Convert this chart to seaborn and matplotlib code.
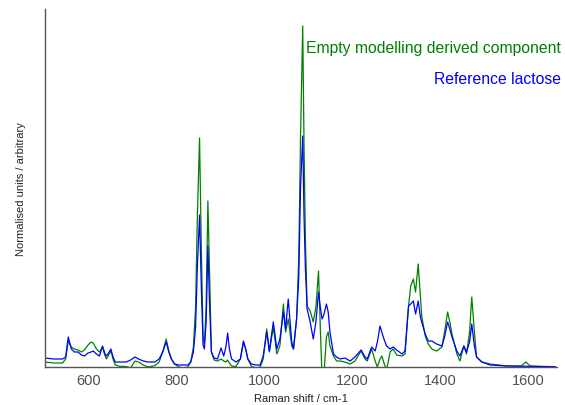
import pandas as pd
import matplotlib
matplotlib.use("Agg")
import matplotlib.pyplot as plt
import seaborn as sns

# Raman shift (cm-1) and intensities (arbitrary units)
shift = [500, 520, 540, 547, 553, 560, 567, 575, 583, 590,
         598, 605, 610, 617, 624, 631, 636, 640, 645, 650,
         655, 660, 670, 685, 695, 705, 713, 724, 735, 750,
         760, 768, 776, 782, 788, 795, 805, 815, 825, 832,
         838, 843, 847, 852, 856, 860, 863, 867, 871, 875,
         879, 885, 893, 901, 907, 912, 916, 920, 925, 935,
         945, 952, 957, 962, 970, 980, 990, 997, 1005, 1011,
         1020, 1028, 1035, 1043, 1048, 1054, 1062, 1066, 1073, 1078,
         1082, 1087, 1090, 1093, 1097, 1104, 1111, 1117, 1123, 1127,
         1131, 1135, 1141, 1145, 1149, 1157, 1164, 1172, 1183, 1195,
         1206, 1220, 1229, 1234, 1244, 1252, 1257, 1263, 1267, 1272,
         1278, 1286, 1293, 1301, 1313, 1320, 1328, 1333, 1339, 1344,
         1350, 1355, 1358, 1366, 1373, 1381, 1392, 1404, 1410, 1417,
         1422, 1427, 1438, 1445, 1454, 1460, 1467, 1472, 1478, 1483,
         1495, 1514, 1552, 1585, 1595, 1605, 1628, 1662]

lactose = [9, 8, 8, 10, 30, 18, 15, 15, 12, 11,
           14, 15, 16, 13, 11, 21, 14, 11, 14, 18,
           10, 5, 5, 5, 7, 10, 8, 6, 5, 5,
           8, 15, 25, 15, 8, 3, 2, 2, 2, 5,
           15, 40, 100, 152, 80, 22, 18, 45, 121, 60,
           15, 9, 8, 19, 11, 20, 34, 18, 8, 5,
           8, 26, 18, 8, 3, 2, 2, 11, 35, 16,
           45, 18, 28, 55, 38, 68, 25, 18, 48, 90,
           180, 231, 150, 100, 58, 45, 28, 45, 75, 60,
           48, 52, 63, 55, 35, 13, 10, 8, 9, 6,
           10, 17, 10, 8, 20, 16, 25, 41, 35, 28,
           21, 18, 20, 17, 13, 16, 61, 63, 66, 53,
           66, 50, 45, 33, 26, 26, 23, 21, 30, 45,
           38, 30, 16, 11, 21, 15, 25, 43, 21, 10,
           5, 2, 1, 0.7, 0.7, 0.7, 0.5, 0.3]

component = [5, 4, 4, 8, 26, 20, 18, 17, 15, 17,
             22, 25, 24, 18, 15, 20, 12, 8, 12, 16,
             8, 2, 0.7, 0.5, -1, 6, 5, 2, 0, 1.3,
             5, 15, 28, 16, 8, 3, 0, -1, 0, 5,
             20, 60, 150, 229, 120, 30, 23, 60, 166, 90,
             15, 7, 6, 8, 6, 5, 7, 4, 1, 0.5,
             8, 25, 18, 8, 0.7, -1, 0, 8, 38, 15,
             40, 13, 21, 63, 35, 48, 21, 18, 48, 110,
             230, 341, 220, 130, 61, 56, 45, 60, 96, 40,
             -10, -10, 30, 35, 21, 11, 6, 6, 5, 3,
             6, 16, 8, 6, 18, 6, 0, 8, 11, 4,
             -3, 15, 18, 12, 11, 13, 61, 81, 88, 75,
             103, 70, 51, 31, 23, 18, 16, 20, 35, 55,
             45, 33, 13, 6, 21, 13, 35, 70, 35, 10,
             5, 3, 1, 1, 5, 1, 0.5, 0.3]

names = ["Empty modelling derived component", "Reference lactose"]
colours = {names[0]: "#008000", names[1]: "#0000ff"}

df = pd.DataFrame({"shift": shift, names[0]: component, names[1]: lactose})
df = df.melt(id_vars="shift", var_name="spectrum", value_name="intensity")

sns.set_style("white")
plt.rcParams["font.family"] = ["Liberation Sans", "DejaVu Sans"]

fig = plt.figure(figsize=(5.65, 4.06), dpi=100)
ax = fig.add_axes([45 / 565, 38 / 406, 511.5 / 565, 358 / 406])

sns.lineplot(data=df, x="shift", y="intensity", hue="spectrum",
             hue_order=names, palette=colours, estimator=None, sort=False,
             linewidth=0.9, legend=False, ax=ax)

ax.set_xlim(500, 1665)
ax.set_ylim(0, 358)
ax.set_xticks([600, 800, 1000, 1200, 1400, 1600])
ax.set_yticks([])
ax.tick_params(axis="x", direction="in", length=4, width=0.8, color="#555555",
               labelsize=10.5, labelcolor="#505050", pad=4)
for side in ["top", "right"]:
    ax.spines[side].set_visible(False)
for side in ["left", "bottom"]:
    ax.spines[side].set_color("#555555")
    ax.spines[side].set_linewidth(1)

ax.set_xlabel("Raman shift / cm-1", fontsize=8, color="#222222", labelpad=5)
ax.set_ylabel("Normalised units / arbitrary", fontsize=8, color="#222222", labelpad=14)

fig.text(561 / 565, 1 - 48 / 406, names[0], color="#008000", fontsize=11.3,
         ha="right", va="center")
fig.text(561 / 565, 1 - 80 / 406, names[1], color="#0000ff", fontsize=11.3,
         ha="right", va="center")

fig.savefig("out.png", dpi=100)
